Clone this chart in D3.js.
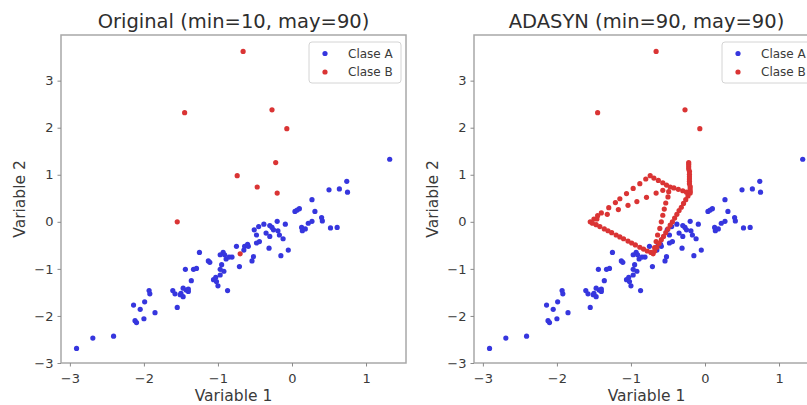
<!DOCTYPE html>
<html>
<head>
<meta charset="utf-8">
<script src="https://cdn.jsdelivr.net/npm/d3@7"></script>
<style>
  body { margin: 0; background: #fff; }
  svg { display: block; }
  text { font-family: "DejaVu Sans", sans-serif; }
</style>
</head>
<body>
<svg id="chart" width="807" height="405"></svg>
<script>
// Clase A (mayoritaria): 90 puntos [Variable 1, Variable 2]
const claseA = [
  [-2.91, -2.69], [-2.69, -2.47], [-2.41, -2.43], [-2.14, -1.77], [-2.05, -1.86],
  [-2.10, -2.14], [-2.00, -2.06], [-1.99, -1.70], [-1.85, -1.93], [-1.93, -1.46],
  [-1.92, -1.53], [-1.61, -1.46], [-1.58, -1.53], [-1.51, -1.55], [-1.47, -1.59],
  [-1.55, -1.82], [-1.47, -1.41], [-1.43, -1.45], [-1.40, -1.48], [-1.36, -1.25],
  [-1.44, -1.01], [-1.33, -1.01], [-1.29, -0.99], [-1.25, -0.65], [-1.13, -0.83],
  [-1.11, -0.86], [-1.06, -1.23], [-1.03, -1.18], [-1.00, -1.36], [-0.97, -1.13],
  [-0.97, -1.01], [-0.95, -0.91], [-0.93, -0.65], [-0.91, -0.70], [-0.89, -0.79],
  [-0.87, -1.46], [-0.81, -0.75], [-0.75, -0.52], [-0.71, -0.95], [0.74, 0.86],
  [0.64, 0.70], [0.75, 0.63], [0.50, 0.68], [0.27, 0.47], [0.04, 0.22],
  [0.10, 0.28], [0.31, 0.22], [0.40, 0.09], [0.41, 0.02], [0.22, -0.03],
  [0.27, 0.01], [0.13, -0.12], [0.14, -0.19], [0.52, -0.13], [0.61, -0.12],
  [-0.20, 0.01], [-0.09, -0.05], [-0.27, -0.12], [-0.38, -0.05], [-0.51, -0.17],
  [-0.48, -0.28], [-0.35, -0.24], [-0.30, -0.31], [-0.19, -0.19], [-0.17, -0.28],
  [-0.12, -0.36], [-0.44, -0.42], [-0.48, -0.45], [-0.31, -0.56], [-0.05, -0.60],
  [-0.15, -0.72], [-0.64, -0.52], [-0.59, -0.52], [-0.65, -0.60], [-0.52, -0.74],
  [-0.54, -0.83], [-1.02, -1.27], [1.32, 1.33], [-0.25, -0.17], [-1.50, -1.52],
  [-2.12, -2.10], [-0.92, -1.05], [-0.97, -0.70], [-0.45, -0.10], [0.07, 0.25],
  [-0.60, -0.48], [0.18, -0.15], [-1.40, -1.43], [-0.85, -0.75], [-0.30, -0.08]
];

// Clase B (minoritaria): 10 puntos originales
const claseB = [
  [-0.66, 3.62], [-1.45, 2.32], [-1.55, 0.00], [-0.74, 0.98], [-0.27, 2.38],
  [-0.07, 1.98], [-0.22, 1.26], [-0.47, 0.74], [-0.20, 0.61], [-0.70, -0.68]
];

// Clase B: 80 muestras sintéticas generadas por ADASYN
const claseBSinteticos = [
  [-1.50, 0.06], [-1.45, 0.13], [-1.40, 0.19], [-1.30, 0.30], [-1.21, 0.41],
  [-1.15, 0.49], [-1.06, 0.60], [-0.97, 0.71], [-0.88, 0.81], [-0.80, 0.91],
  [-1.46, 0.06], [-1.32, 0.16], [-1.17, 0.26], [-1.04, 0.35], [-0.92, 0.43],
  [-0.79, 0.52], [-0.66, 0.61], [-0.57, 0.67],
  [-1.52, -0.03], [-1.47, -0.06], [-1.42, -0.10], [-1.36, -0.15], [-1.31, -0.19],
  [-1.26, -0.23], [-1.20, -0.28], [-1.15, -0.32], [-1.10, -0.36], [-1.04, -0.41],
  [-0.99, -0.45], [-0.94, -0.49], [-0.88, -0.54], [-0.83, -0.58], [-0.78, -0.62],
  [-0.73, -0.65],
  [-0.69, 0.93], [-0.63, 0.88], [-0.57, 0.83], [-0.52, 0.78],
  [-0.42, 0.72], [-0.36, 0.69], [-0.30, 0.66], [-0.25, 0.63],
  [-0.49, 0.64], [-0.50, 0.53], [-0.53, 0.40], [-0.55, 0.27], [-0.57, 0.14],
  [-0.59, 0.00], [-0.61, -0.14], [-0.64, -0.28], [-0.66, -0.42], [-0.68, -0.55],
  [-0.23, 0.55], [-0.26, 0.47], [-0.29, 0.39], [-0.32, 0.31], [-0.35, 0.24],
  [-0.38, 0.16], [-0.41, 0.08], [-0.44, 0.00], [-0.47, -0.07], [-0.50, -0.15],
  [-0.53, -0.23], [-0.56, -0.31], [-0.59, -0.38], [-0.62, -0.46], [-0.65, -0.54],
  [-0.68, -0.62],
  [-0.22, 1.22], [-0.22, 1.17], [-0.22, 1.12], [-0.21, 1.07], [-0.21, 1.01],
  [-0.21, 0.96], [-0.21, 0.91], [-0.21, 0.86], [-0.21, 0.81], [-0.20, 0.75],
  [-0.20, 0.70], [-0.20, 0.65]
];

const titulos = ["Original (min=10, may=90)", "ADASYN (min=90, may=90)"];
const etiquetasLeyenda = ["Clase A", "Clase B"];
const xTicks = [-3, -2, -1, 0, 1];
const yTicks = [-3, -2, -1, 0, 1, 2, 3];

const colorA = "#3636de";
const colorB = "#da3434";
const radio = 2.6;

const svg = d3.select("#chart");

const paneles = [
  { left: 61, titulo: titulos[0], puntosB: claseB },
  { left: 474, titulo: titulos[1], puntosB: claseB.concat(claseBSinteticos) }
];

const anchoEje = 345, arriba = 35, abajo = 363;
const fmt = d => (d < 0 ? "\u2212" + Math.abs(d) : String(d));

paneles.forEach(p => {
  const x = d3.scaleLinear().domain([-3.12, 1.54]).range([p.left, p.left + anchoEje]);
  const y = d3.scaleLinear().domain([-3.0, 3.97]).range([abajo, arriba]);

  // marco del eje
  svg.append("rect")
    .attr("x", p.left).attr("y", arriba)
    .attr("width", anchoEje).attr("height", abajo - arriba)
    .attr("fill", "#fff").attr("stroke", "#a8a8a8").attr("stroke-width", 1.5);

  const gx = svg.append("g")
    .attr("transform", `translate(0,${abajo})`)
    .call(d3.axisBottom(x).tickValues(xTicks).tickFormat(fmt).tickSize(3.5).tickPadding(7));
  const gy = svg.append("g")
    .attr("transform", `translate(${p.left},0)`)
    .call(d3.axisLeft(y).tickValues(yTicks).tickFormat(fmt).tickSize(3.5).tickPadding(4));
  [gx, gy].forEach(g => {
    g.select(".domain").remove();
    g.selectAll(".tick line").attr("stroke", "#8a8a8a").attr("stroke-width", 1);
    g.selectAll(".tick text")
      .attr("fill", "#3a3a3a")
      .style("font-size", "13px")
      .style("font-family", "'DejaVu Sans', sans-serif");
  });

  // puntos: primero la clase A, luego la clase B
  svg.append("g").selectAll("circle").data(claseA).join("circle")
    .attr("cx", d => x(d[0])).attr("cy", d => y(d[1]))
    .attr("r", radio).attr("fill", colorA);
  svg.append("g").selectAll("circle").data(p.puntosB).join("circle")
    .attr("cx", d => x(d[0])).attr("cy", d => y(d[1]))
    .attr("r", radio).attr("fill", colorB);

  // título
  svg.append("text")
    .attr("x", p.left + anchoEje / 2).attr("y", 28)
    .attr("text-anchor", "middle")
    .attr("fill", "#2e2e2e")
    .style("font-size", "19.5px")
    .text(p.titulo);

  // etiquetas de los ejes
  svg.append("text")
    .attr("x", p.left + anchoEje / 2).attr("y", 401)
    .attr("text-anchor", "middle")
    .attr("fill", "#3a3a3a")
    .style("font-size", "15.5px")
    .text("Variable 1");
  svg.append("text")
    .attr("transform", `translate(${p.left - 36},${(arriba + abajo) / 2}) rotate(-90)`)
    .attr("text-anchor", "middle")
    .attr("fill", "#3a3a3a")
    .style("font-size", "15.5px")
    .text("Variable 2");

  // leyenda
  const leg = svg.append("g").attr("transform", `translate(${p.left + 248},42)`);
  leg.append("rect")
    .attr("width", 92).attr("height", 41).attr("rx", 3)
    .attr("fill", "#fff").attr("fill-opacity", 0.85)
    .attr("stroke", "#d4d4d4").attr("stroke-width", 1);
  [colorA, colorB].forEach((c, i) => {
    leg.append("circle")
      .attr("cx", 16).attr("cy", 11.5 + i * 18.5)
      .attr("r", radio).attr("fill", c);
    leg.append("text")
      .attr("x", 39).attr("y", 15.5 + i * 18.5)
      .attr("fill", "#3a3a3a")
      .style("font-size", "12px")
      .text(etiquetasLeyenda[i]);
  });
});
</script>
</body>
</html>
